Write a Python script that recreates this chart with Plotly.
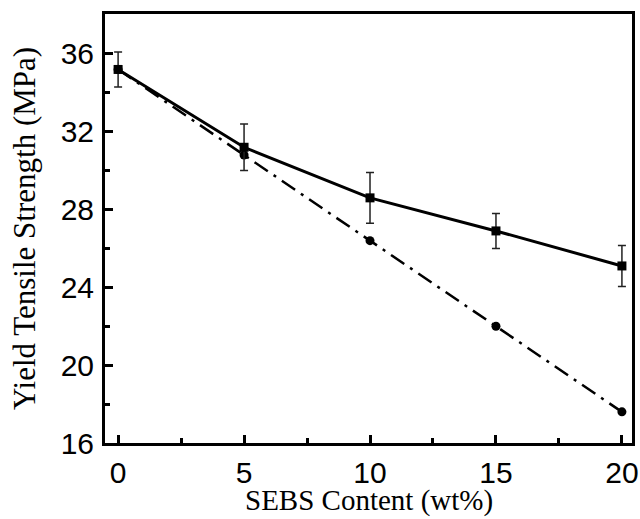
import plotly.graph_objects as go

sebs = [0, 5, 10, 15, 20]
measured = [35.2, 31.2, 28.6, 26.9, 25.1]
measured_err = [0.9, 1.2, 1.3, 0.9, 1.05]
predicted = [35.2, 30.8, 26.4, 22.0, 17.6]

x_ticks = [0, 5, 10, 15, 20]
y_ticks = [16, 20, 24, 28, 32, 36]

fig = go.Figure()

fig.add_trace(go.Scatter(
    x=sebs, y=predicted, mode="lines+markers",
    line=dict(color="black", width=2.5, dash="16px,7px,3px,7px"),
    marker=dict(symbol="circle", size=9, color="black"),
    showlegend=False,
))

fig.add_trace(go.Scatter(
    x=sebs, y=measured, mode="lines+markers",
    line=dict(color="black", width=3),
    marker=dict(symbol="square", size=9, color="black"),
    error_y=dict(type="data", array=measured_err, visible=True,
                 color="#222222", thickness=1.5, width=4),
    showlegend=False,
))

axis_common = dict(
    showline=True, linecolor="black", linewidth=3, mirror=True,
    ticks="inside", ticklen=8, tickwidth=2.5, tickcolor="black",
    showgrid=False, zeroline=False, automargin=False,
    tickfont=dict(family="Liberation Sans, Arial, sans-serif", size=30, color="black"),
)

title_font = dict(family="Liberation Serif, Times New Roman, serif", size=31, color="black")
xtitle_font = dict(family="Liberation Serif, Times New Roman, serif", size=29, color="black")

fig.update_layout(
    width=640, height=519,
    margin=dict(l=105, r=8, t=14, b=76),
    plot_bgcolor="white", paper_bgcolor="white",
    xaxis=dict(
        range=[-0.52, 20.4], tickvals=x_ticks, ticklabelstandoff=1,
        minor=dict(ticks="inside", ticklen=5, tickwidth=2.5, tickcolor="black", dtick=2.5, tick0=0),
        **axis_common,
    ),
    yaxis=dict(
        range=[16, 38.05], tickvals=y_ticks, ticklabelstandoff=2,
        minor=dict(ticks="inside", ticklen=5, tickwidth=2.5, tickcolor="black", dtick=2, tick0=0),
        title=dict(text="Yield Tensile Strength (MPa)", standoff=16, font=title_font),
        **axis_common,
    ),
    annotations=[dict(
        text="SEBS Content (wt%)", xref="paper", yref="paper", x=0.5, y=0,
        xanchor="center", yanchor="middle", yshift=-57, showarrow=False,
        font=xtitle_font,
    )],
)

fig.write_html("out.html")
